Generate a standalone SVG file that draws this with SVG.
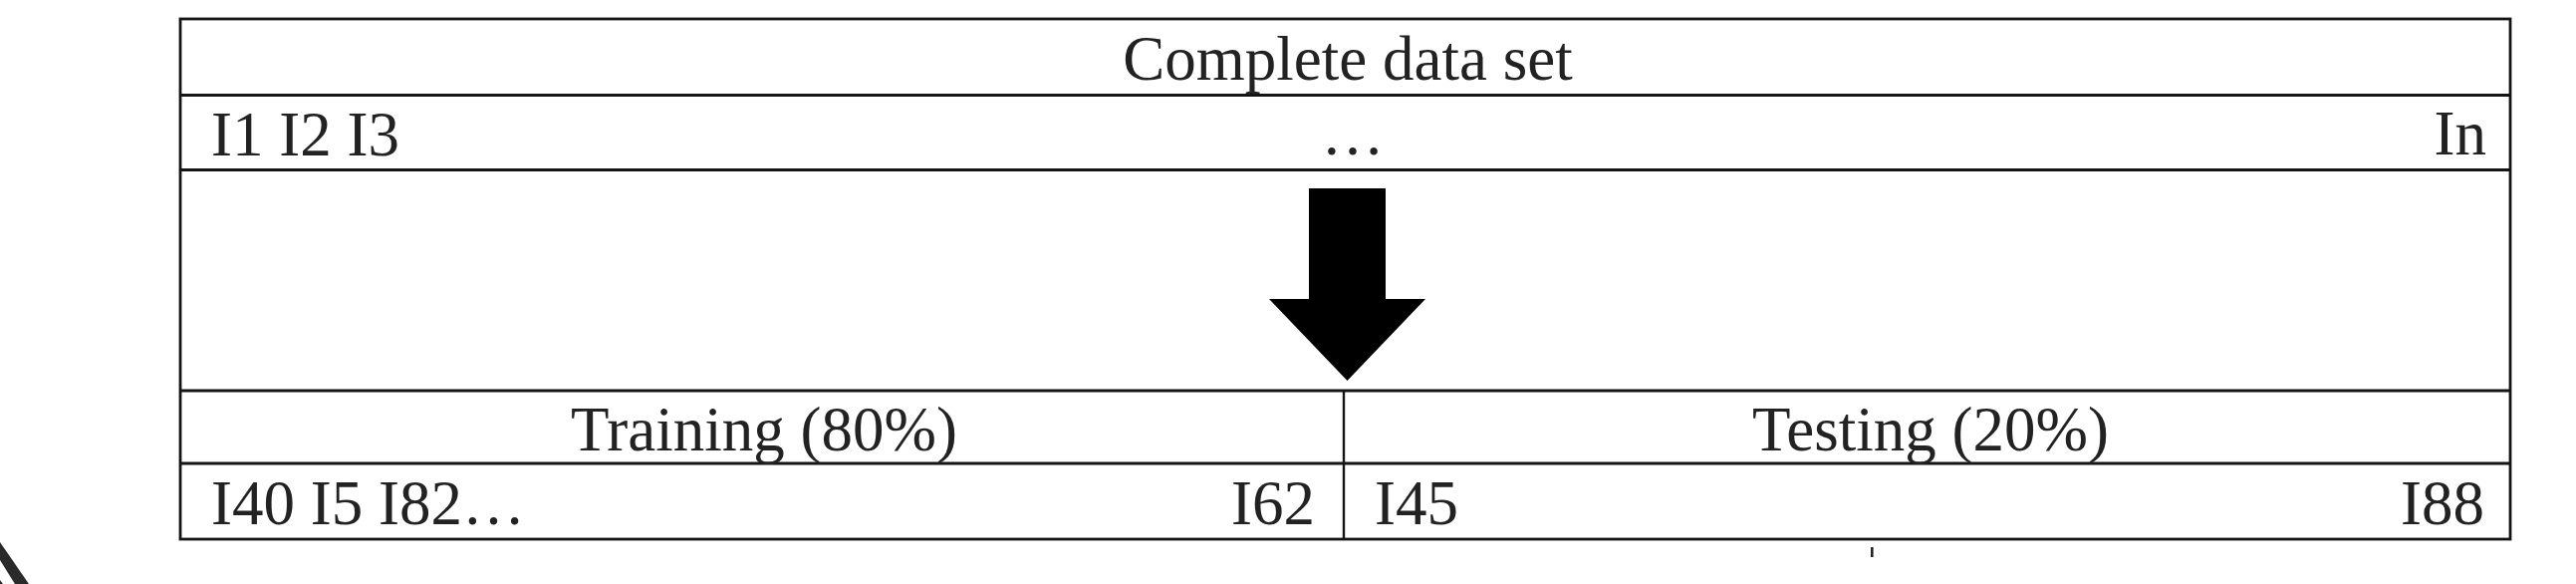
<svg xmlns="http://www.w3.org/2000/svg" width="2586" height="586" viewBox="0 0 2586 586">
  <style>
    .cell { fill: none; stroke: #141414; stroke-width: 2.8; }
    .rule { stroke: #141414; stroke-width: 2.8; }
    .div { stroke: #141414; stroke-width: 2.4; }
    .t { font-family: "Liberation Serif", "Times New Roman", serif; font-size: 63px; fill: #222; }
    .m { text-anchor: middle; }
    .e { text-anchor: end; }
  </style>
  <rect width="2586" height="586" fill="#ffffff"/>

  <g id="table">
    <rect class="cell" x="181" y="19" width="2339" height="522"/>
    <line class="rule" x1="181" y1="95.5" x2="2520" y2="95.5"/>
    <line class="rule" x1="181" y1="170.5" x2="2520" y2="170.5"/>
    <line class="rule" x1="181" y1="392" x2="2520" y2="392"/>
    <line class="rule" x1="181" y1="465" x2="2520" y2="465"/>
    <line class="div" x1="1349" y1="392" x2="1349" y2="541"/>
  </g>

  <g id="complete-data-set">
    <text class="t m" x="1353" y="80">Complete data set</text>
    <text class="t" x="212" y="156">I1 I2 I3</text>
    <text class="t m" x="1358" y="155">…</text>
    <text class="t e" x="2496" y="155">In</text>
  </g>

  <g id="training">
    <text class="t m" x="767" y="452">Training (80%)</text>
    <text class="t" x="212" y="526">I40 I5 I82…</text>
    <text class="t e" x="1320" y="526">I62</text>
  </g>

  <g id="testing">
    <text class="t m" x="1938" y="452">Testing (20%)</text>
    <text class="t" x="1380" y="526">I45</text>
    <text class="t e" x="2494" y="526">I88</text>
  </g>

  <g id="connectors">
    <polygon points="1314,189 1391,189 1391,300 1431,300 1352.5,382 1274,300 1314,300" fill="#000"/>
  </g>

  <g id="marks">
    <rect x="1878" y="549" width="2.6" height="10" fill="#222"/>
    <polygon points="0,544 29,586 15,586 0,562" fill="#2a2a2a"/>
    <polygon points="0,582 3,586 0,586" fill="#2a2a2a"/>
  </g>
</svg>
